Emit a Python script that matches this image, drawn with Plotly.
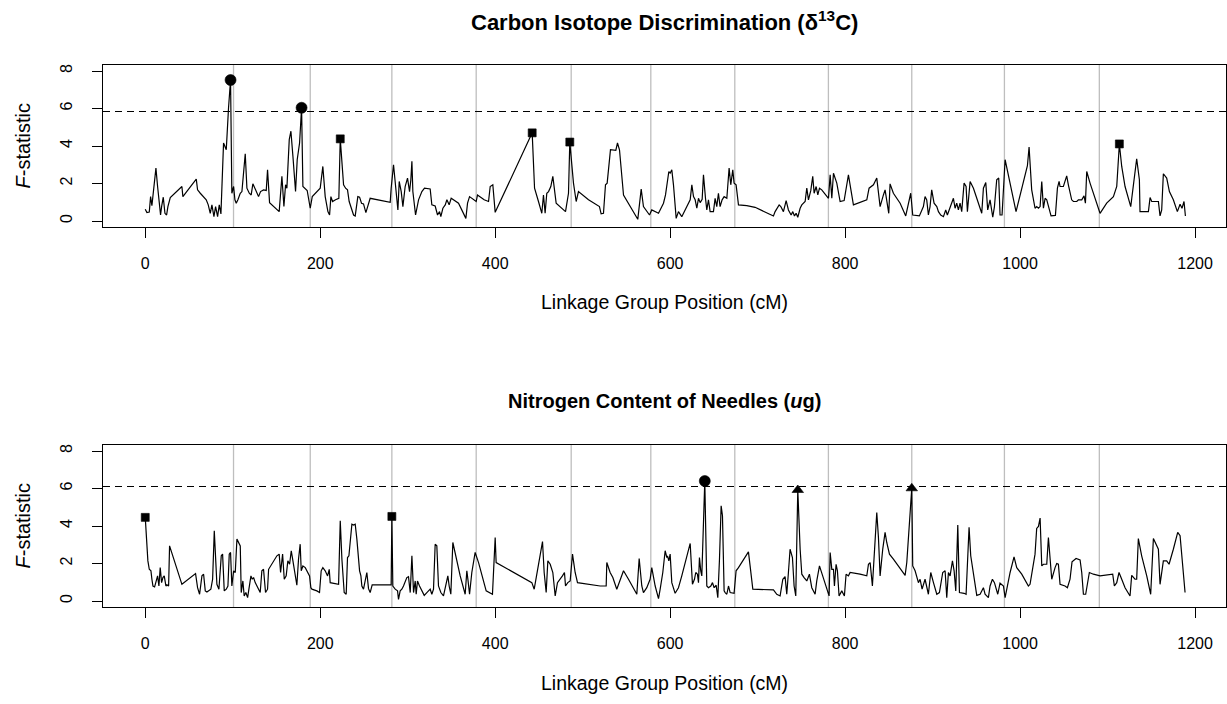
import plotly.graph_objects as go

# ---------------- data ----------------
# linkage-group boundaries (cM)
group_bounds = [100.9, 188.6, 281.9, 378.3, 486.9, 577.9, 673.9, 780.9, 876.2, 982.1, 1090.6]

x_ticks = [0, 200, 400, 600, 800, 1000, 1200]
y_ticks = [0, 2, 4, 6, 8]

# Carbon isotope discrimination: (position cM, F-statistic)
d13c_profile = [
    (0, 0.63), (1.9, 0.45), (4.6, 0.48), (6.1, 1.30), (7.6, 0.82), (9.5, 1.57), (12.2, 2.82), (14.1, 1.84),
    (16.0, 0.77), (17.5, 0.32), (18.7, 0.77), (20.6, 1.27), (22.5, 0.41), (24.4, 0.32), (25.9, 0.77),
    (28.6, 1.25), (41.9, 1.84), (43.0, 1.30), (58.3, 2.23), (59.8, 1.66), (62.9, 1.48), (66.7, 1.30),
    (69.7, 1.13), (72.0, 0.86), (74.3, 0.41), (76.2, 0.86), (78.5, 0.23), (80.4, 0.77), (82.7, 0.23),
    (84.6, 0.86), (86.5, 0.38), (89.5, 4.16), (92.6, 3.80), (95.2, 6.04), (97.5, 7.52), (99.0, 1.48),
    (101.0, 1.84), (102.5, 1.13), (104.0, 0.95), (105.9, 1.13), (108.6, 1.48), (110.5, 1.57), (114.3, 3.59),
    (116.2, 1.75), (118.9, 1.48), (121.1, 1.39), (123.0, 1.98), (126.1, 1.66), (129.5, 1.30), (131.8, 1.57),
    (135.2, 1.66), (138.3, 1.63), (139.8, 2.73), (142.1, 0.98), (146.7, 0.77), (153.1, 0.50), (156.2, 2.38),
    (158.5, 0.77), (160.4, 1.93), (161.9, 1.75), (164.6, 4.34), (166.5, 4.79), (168.8, 3.45), (171.8, 1.57),
    (173.7, 3.27), (176.4, 4.16), (178.7, 6.04), (180.2, 1.84), (185.1, 1.63), (188.6, 0.68), (190.9, 1.30),
    (196.2, 1.57), (200.0, 1.75), (203.0, 2.91), (205.7, 1.30), (208.8, 0.50), (210.7, 0.32), (212.2, 1.30),
    (214.1, 1.04), (217.5, 1.13), (221.3, 1.21), (222.9, 4.38), (225.1, 2.73), (226.7, 1.93), (229.0, 1.75),
    (231.2, 1.66), (233.1, 1.04), (238.1, 0.32), (240.0, 0.27), (243.0, 1.30), (245.0, 1.27), (247.2, 0.95),
    (249.5, 0.91), (252.2, 0.45), (257.1, 1.21), (280.0, 1.00), (281.1, 1.75), (283.8, 3.00), (288.8, 0.59),
    (290.3, 2.11), (292.6, 1.57), (294.5, 0.77), (297.1, 1.84), (299.8, 2.29), (302.1, 1.57), (303.6, 2.20),
    (304.8, 3.18), (305.9, 1.57), (309.0, 0.32), (312.4, 1.13), (316.2, 1.57), (319.2, 1.75), (325.7, 1.71),
    (327.6, 0.86), (331.4, 0.80), (334.1, 0.32), (336.4, 0.50), (337.9, 0.23), (340.2, 0.68), (342.9, 0.86),
    (344.8, 1.13), (347.4, 0.86), (349.7, 1.21), (358.1, 0.95), (366.5, 0.14), (368.4, 0.95), (370.7, 1.30),
    (375.2, 1.13), (378.3, 1.04), (379.8, 1.39), (387.4, 1.13), (392.4, 1.04), (394.3, 1.84), (397.3, 1.93),
    (400.0, 0.46), (442.3, 4.70), (445.0, 1.75), (449.5, 1.04), (453.3, 0.41), (455.2, 1.39), (457.1, 0.41),
    (459.0, 1.48), (461.0, 1.57), (463.6, 1.84), (465.9, 2.38), (469.7, 0.95), (474.3, 0.77), (480.4, 0.50),
    (483.8, 1.48), (485.3, 4.21), (489.5, 2.02), (492.6, 1.04), (495.2, 1.57), (506.7, 1.13), (519.2, 0.77),
    (521.1, 0.38), (523.8, 0.41), (526.1, 1.93), (528.0, 2.02), (530.3, 3.27), (531.8, 3.80), (537.9, 3.77),
    (539.8, 4.16), (542.1, 3.80), (546.7, 1.39), (563.0, 0.09), (566.9, 1.70), (569.5, 0.77), (576.4, 0.32),
    (579.0, 0.59), (586.7, 0.41), (592.4, 0.95), (594.7, 1.39), (598.5, 2.64), (600.0, 2.55), (601.9, 2.73),
    (603.8, 1.93), (606.9, 0.14), (609.5, 0.50), (613.3, 0.23), (619.0, 0.77), (622.9, 1.13), (624.8, 1.93),
    (626.7, 1.30), (628.6, 1.13), (630.5, 0.68), (632.4, 1.21), (634.3, 0.98), (636.6, 1.16), (638.1, 2.46),
    (640.4, 1.21), (641.9, 0.59), (643.8, 1.13), (645.7, 0.50), (649.5, 0.50), (651.4, 1.21), (653.3, 0.77),
    (655.2, 1.48), (657.1, 0.77), (659.4, 1.13), (661.7, 1.30), (664.8, 1.21), (667.4, 2.82), (669.3, 1.93),
    (671.6, 2.73), (673.1, 2.02), (675.4, 1.93), (678.1, 0.86), (687.6, 0.82), (697.1, 0.73), (718.1, 0.27),
    (720.0, 0.50), (724.6, 0.86), (726.5, 0.77), (729.5, 0.50), (732.6, 1.09), (735.2, 0.59), (738.3, 0.32),
    (740.2, 0.50), (742.1, 0.27), (744.0, 0.41), (745.9, 0.20), (748.6, 0.68), (750.5, 0.86), (754.3, 1.04),
    (756.2, 1.75), (758.1, 1.13), (760.8, 1.63), (763.0, 2.38), (764.6, 1.48), (766.9, 1.84), (768.8, 1.39),
    (770.7, 1.75), (773.3, 1.66), (781.0, 1.21), (782.9, 2.46), (784.8, 1.21), (786.7, 2.55), (790.5, 2.02),
    (794.3, 1.04), (798.9, 1.09), (803.8, 2.46), (809.5, 0.86), (824.8, 1.13), (827.4, 1.75), (832.4, 1.93),
    (836.2, 2.29), (840.0, 0.77), (843.8, 1.39), (845.7, 1.66), (849.9, 0.41), (851.4, 1.98), (855.2, 1.48),
    (862.9, 0.95), (869.3, 0.27), (875.0, 1.48), (877.3, 0.32), (884.9, 0.27), (889.5, 0.77), (891.4, 1.30),
    (893.3, 1.13), (895.2, 0.32), (897.1, 0.77), (899.0, 1.66), (901.7, 0.95), (904.8, 0.77), (906.7, 0.50),
    (909.3, 0.32), (912.4, 0.23), (915.0, 0.59), (916.9, 0.32), (920.0, 0.68), (921.9, 0.95), (923.8, 1.21),
    (925.7, 0.68), (927.6, 0.95), (929.5, 0.59), (931.4, 0.95), (933.3, 0.50), (936.0, 2.02), (938.3, 1.84),
    (939.8, 0.50), (942.9, 2.11), (946.7, 1.75), (950.5, 1.21), (956.2, 0.41), (958.1, 1.75), (960.8, 2.05),
    (963.0, 0.59), (965.7, 1.13), (968.8, 0.20), (970.7, 0.77), (973.3, 2.20), (975.6, 2.29), (977.1, 0.32),
    (979.4, 0.32), (982.9, 3.27), (995.4, 0.50), (1008.4, 2.95), (1010.3, 3.95), (1013.3, 1.66), (1017.1, 0.68),
    (1019.0, 0.77), (1021.0, 0.68), (1022.9, 0.77), (1024.8, 2.11), (1026.7, 0.68), (1028.6, 1.21),
    (1030.5, 1.13), (1032.4, 0.77), (1035.4, 0.27), (1040.4, 0.30), (1042.7, 1.75), (1044.6, 2.11),
    (1045.7, 1.84), (1049.5, 1.84), (1053.3, 2.41), (1055.2, 1.93), (1059.0, 1.13), (1061.0, 1.04),
    (1064.8, 1.04), (1066.7, 1.13), (1070.5, 1.13), (1073.1, 1.34), (1074.7, 0.95), (1076.2, 2.64),
    (1080.0, 2.02), (1091.4, 0.41), (1099.0, 0.95), (1106.7, 1.30), (1110.5, 1.84), (1113.5, 4.11),
    (1116.2, 2.91), (1120.0, 1.84), (1126.5, 0.77), (1133.3, 3.32), (1136.4, 2.20), (1137.1, 0.50),
    (1146.7, 0.50), (1148.6, 1.25), (1150.5, 1.04), (1158.1, 1.04), (1160.0, 0.27), (1161.9, 0.59),
    (1163.8, 2.52), (1167.6, 2.29), (1170.7, 1.57), (1175.2, 1.13), (1179.8, 0.50), (1182.9, 0.89),
    (1185.1, 0.68), (1187.4, 1.04), (1189.0, 0.27),
]
d13c_threshold = 5.84
d13c_mark_pos = [97.5, 178.7, 222.9, 442.3, 485.3, 1113.5]
d13c_mark_f = [7.52, 6.04, 4.38, 4.70, 4.21, 4.11]
d13c_mark_sym = ["circle", "circle", "square", "square", "square", "square"]

# Nitrogen content of needles: (position cM, F-statistic)
n_profile = [
    (0, 4.46), (3.0, 2.14), (4.6, 1.69), (6.5, 1.61), (7.6, 1.16), (8.8, 0.80), (10.7, 0.75), (12.6, 1.07),
    (14.1, 1.34), (15.6, 0.80), (17.1, 1.78), (18.7, 0.98), (20.2, 1.25), (21.7, 1.34), (23.6, 0.80),
    (24.8, 0.86), (26.7, 0.80), (27.8, 2.94), (41.9, 0.89), (57.5, 1.46), (59.8, 0.71), (62.1, 0.36),
    (64.8, 1.34), (66.7, 1.43), (68.6, 0.54), (70.5, 0.48), (72.8, 0.54), (75.0, 0.63), (77.0, 1.16),
    (78.9, 3.74), (81.9, 0.89), (84.2, 0.63), (86.9, 2.41), (88.4, 2.50), (90.3, 0.54), (92.6, 0.63),
    (94.5, 0.80), (96.0, 2.50), (97.5, 2.59), (99.0, 0.80), (101.0, 1.61), (102.9, 1.52), (104.8, 3.30),
    (106.7, 3.12), (108.6, 2.94), (109.7, 0.45), (111.6, 1.07), (113.1, 0.27), (115.0, 0.45), (117.0, 0.18),
    (118.9, 0.80), (120.8, 1.34), (122.3, 1.16), (123.8, 1.25), (125.7, 0.98), (127.6, 0.80), (129.5, 0.54),
    (131.4, 0.45), (133.3, 1.61), (135.2, 1.69), (137.5, 0.45), (139.8, 0.63), (141.0, 1.69), (144.8, 1.96),
    (150.5, 2.41), (153.1, 2.50), (154.7, 1.52), (157.0, 2.50), (158.9, 1.16), (161.1, 1.34), (163.0, 2.14),
    (165.0, 1.96), (166.9, 2.68), (168.8, 2.14), (171.4, 1.43), (173.3, 0.84), (175.2, 2.23), (177.1, 3.03),
    (178.3, 1.61), (180.2, 1.87), (182.9, 1.78), (184.8, 1.61), (187.8, 1.34), (189.3, 0.71), (190.5, 0.63),
    (196.2, 0.54), (199.2, 0.45), (201.1, 1.61), (203.0, 1.78), (205.7, 1.61), (208.4, 1.34), (210.3, 1.69),
    (211.4, 0.98), (221.0, 0.89), (222.9, 4.28), (224.8, 2.23), (227.4, 0.45), (229.7, 0.36), (231.2, 2.32),
    (232.8, 2.41), (235.0, 3.30), (236.2, 4.10), (238.1, 4.05), (240.0, 4.10), (241.9, 3.30), (243.8, 2.05),
    (245.0, 1.61), (246.5, 1.34), (247.6, 0.80), (249.5, 0.63), (251.4, 1.16), (253.3, 1.52), (255.2, 0.66),
    (257.1, 0.45), (259.4, 0.86), (281.1, 0.86), (281.9, 4.51), (283.0, 0.80), (285.7, 0.63), (288.4, 0.54),
    (289.5, 0.09), (291.4, 0.54), (293.3, 0.63), (295.2, 0.80), (299.0, 1.25), (300.9, 1.30), (302.9, 0.45),
    (304.8, 2.41), (306.7, 0.45), (308.6, 1.07), (309.7, 0.36), (311.2, 1.07), (313.5, 0.80), (316.2, 0.54),
    (318.9, 0.30), (321.9, 0.45), (325.7, 0.63), (327.6, 0.36), (329.5, 0.63), (331.4, 3.03), (333.3, 2.94),
    (335.2, 0.80), (337.9, 0.45), (340.9, 0.27), (343.6, 0.89), (345.9, 1.34), (347.4, 0.80), (349.3, 0.36),
    (351.6, 3.12), (354.3, 2.50), (360.0, 1.34), (365.7, 0.36), (367.6, 1.61), (368.8, 1.16), (370.7, 0.36),
    (373.3, 1.52), (377.1, 2.59), (381.0, 2.05), (385.9, 1.16), (389.7, 0.54), (396.9, 0.36), (400.0, 3.39),
    (401.1, 2.05), (441.9, 0.98), (444.6, 0.63), (446.9, 1.25), (451.4, 2.59), (454.1, 3.17), (456.0, 1.52),
    (458.3, 0.45), (460.2, 2.14), (462.9, 1.96), (465.9, 1.52), (468.6, 0.27), (471.2, 0.98), (474.3, 1.16),
    (476.9, 1.34), (479.2, 1.52), (480.4, 0.80), (483.0, 0.98), (485.7, 1.07), (488.4, 2.50), (491.4, 1.52),
    (494.1, 0.98), (520.0, 0.80), (526.9, 0.80), (527.6, 2.05), (531.4, 1.52), (534.5, 1.25), (539.0, 0.63),
    (542.9, 1.16), (546.7, 1.61), (552.4, 1.16), (561.9, 0.36), (564.6, 2.27), (567.6, 0.80), (569.5, 0.45),
    (573.3, 0.71), (577.1, 1.16), (579.0, 1.78), (582.9, 0.80), (586.7, 0.13), (588.6, 0.63), (591.6, 1.52),
    (594.3, 2.68), (596.2, 2.32), (597.0, 2.41), (598.5, 2.14), (600.0, 2.50), (601.9, 0.98), (605.7, 0.41),
    (609.5, 0.71), (613.3, 1.34), (618.3, 2.23), (622.9, 3.07), (625.5, 0.89), (627.8, 1.16), (629.3, 1.52),
    (631.2, 1.43), (632.4, 0.98), (633.5, 2.32), (635.0, 1.61), (636.2, 1.34), (639.6, 6.40), (641.1, 3.03),
    (641.9, 0.80), (643.8, 0.71), (646.5, 0.80), (648.4, 0.98), (650.3, 0.71), (652.6, 0.84), (654.5, 0.18),
    (656.4, 2.23), (658.3, 5.08), (659.8, 4.55), (661.7, 0.54), (662.9, 0.45), (664.8, 0.36), (666.7, 0.80),
    (668.6, 0.45), (673.1, 0.41), (675.4, 1.61), (678.1, 1.78), (689.5, 2.62), (691.4, 1.87), (694.5, 0.63),
    (718.1, 0.59), (721.9, 0.36), (725.7, 0.27), (728.8, 1.16), (731.4, 1.30), (733.3, 0.36), (735.2, 1.52),
    (737.1, 2.76), (739.8, 2.32), (741.7, 0.80), (743.6, 0.27), (745.9, 5.92), (748.6, 2.76), (750.5, 1.43),
    (753.1, 1.25), (756.2, 1.07), (759.2, 1.43), (761.9, 0.71), (765.7, 0.36), (767.6, 1.07), (770.7, 1.87),
    (775.2, 1.25), (779.0, 0.63), (781.7, 0.27), (782.9, 2.59), (784.8, 1.69), (786.7, 1.69), (787.8, 0.80),
    (789.7, 1.96), (791.2, 1.61), (793.1, 0.27), (796.2, 0.54), (799.2, 0.27), (801.1, 1.43), (803.8, 1.34),
    (805.7, 1.52), (817.1, 1.43), (824.8, 1.34), (826.7, 1.96), (828.6, 2.05), (831.2, 0.80), (834.3, 3.48),
    (836.2, 4.72), (838.1, 3.39), (840.0, 1.34), (843.0, 2.76), (845.7, 3.66), (847.6, 3.12), (850.7, 2.50),
    (855.2, 2.23), (868.6, 1.37), (870.5, 2.05), (876.2, 6.01), (877.3, 1.87), (880.0, 1.61), (883.8, 0.98),
    (885.7, 1.16), (888.0, 0.63), (891.4, 1.16), (895.2, 0.36), (897.9, 1.52), (901.0, 0.98), (904.8, 0.36),
    (907.8, 0.45), (909.3, 0.98), (911.6, 1.52), (914.3, 1.61), (916.2, 0.18), (918.1, 1.52), (920.0, 1.34),
    (922.7, 2.14), (924.6, 1.61), (926.5, 0.54), (928.8, 4.05), (930.7, 0.45), (933.3, 0.45), (936.0, 0.41),
    (938.3, 0.36), (941.7, 3.93), (943.6, 2.41), (946.7, 1.34), (950.5, 0.30), (954.3, 0.36), (958.1, 0.71),
    (960.0, 0.36), (963.8, 0.18), (965.7, 0.80), (968.4, 1.16), (970.7, 0.98), (972.6, 0.71), (974.5, 0.36),
    (977.1, 0.95), (981.0, 0.80), (982.9, 0.18), (988.6, 1.52), (993.1, 2.35), (996.2, 1.78), (1001.9, 1.43),
    (1009.5, 0.80), (1011.4, 0.89), (1017.1, 2.50), (1019.0, 3.87), (1021.0, 3.98), (1022.9, 4.42),
    (1024.8, 1.87), (1026.7, 1.96), (1030.5, 1.96), (1032.4, 3.39), (1034.3, 2.23), (1036.2, 1.16),
    (1040.0, 1.78), (1041.9, 2.00), (1043.8, 1.96), (1045.7, 0.89), (1051.4, 0.80), (1054.1, 0.71),
    (1057.1, 1.16), (1059.4, 2.09), (1064.0, 2.27), (1068.6, 2.19), (1070.5, 1.52), (1072.4, 0.36),
    (1075.0, 0.36), (1079.2, 1.52), (1083.8, 1.43), (1091.4, 1.34), (1105.9, 1.43), (1107.8, 0.80),
    (1110.5, 0.98), (1113.1, 1.52), (1116.2, 1.16), (1120.0, 0.71), (1125.7, 0.27), (1127.6, 1.37),
    (1131.4, 1.16), (1133.3, 1.16), (1135.2, 3.33), (1139.0, 2.41), (1144.8, 1.34), (1149.3, 0.36),
    (1152.4, 3.33), (1158.1, 2.76), (1160.0, 0.89), (1163.8, 2.14), (1167.6, 2.14), (1170.3, 1.96),
    (1175.2, 2.76), (1180.2, 3.66), (1182.9, 3.48), (1188.6, 0.45),
]
n_threshold = 6.11
n_mark_pos = [0, 281.9, 639.6, 745.9, 876.2]
n_mark_f = [4.46, 4.51, 6.40, 5.92, 6.01]
n_mark_sym = ["square", "square", "circle", "triangle-up", "triangle-up"]

# ---------------- figure ----------------
FONT = "Liberation Sans, Arial, Helvetica, sans-serif"
W, H = 1227, 704
M_L, M_R, M_T, M_B = 103, 1, 65, 97
plot_h = H - M_T - M_B

def py2paper(py):
    return (H - M_B - py) / plot_h

def px2paper(px):
    return (px - M_L) / (W - M_L - M_R)

fig = go.Figure()
sym_size = {"circle": 11, "square": 8, "triangle-up": 10}

panels = [
    ("x", "y", d13c_profile, d13c_threshold, d13c_mark_pos, d13c_mark_f, d13c_mark_sym),
    ("x2", "y2", n_profile, n_threshold, n_mark_pos, n_mark_f, n_mark_sym),
]
shapes = []
for xa, ya, prof, thr, mpos, mf, msym in panels:
    xs = [p[0] for p in prof]
    ys = [p[1] for p in prof]
    fig.add_trace(go.Scatter(x=xs, y=ys, mode="lines", xaxis=xa, yaxis=ya,
                             line=dict(color="black", width=1.2), showlegend=False,
                             hoverinfo="skip"))
    fig.add_trace(go.Scatter(x=mpos, y=mf, mode="markers", xaxis=xa, yaxis=ya,
                             marker=dict(symbol=msym, size=[sym_size[s] for s in msym],
                                         color="black", opacity=1,
                                         line=dict(width=0.6, color="black")),
                             showlegend=False, hoverinfo="skip"))
    for b in group_bounds:
        shapes.append(dict(type="line", xref=xa, yref=f"{ya} domain", x0=b, x1=b, y0=0, y1=1,
                           line=dict(color="#BEBEBE", width=1.3), layer="below"))
    shapes.append(dict(type="line", xref=f"{xa} domain", yref=ya, x0=0, x1=1, y0=thr, y1=thr,
                       line=dict(color="black", width=1.1, dash="7px,5px")))

top_dom = [py2paper(227), 1.0]
bot_dom = [0.0, py2paper(445)]

axis_common = dict(showline=True, mirror=True, linecolor="black", linewidth=1,
                   ticks="outside", ticklen=10, tickwidth=1, tickcolor="black",
                   showgrid=False, zeroline=False,
                   tickfont=dict(family=FONT, size=16, color="black"))

xr = [-48.3, 1235.4]
yr = [-0.32, 8.32]
fig.update_layout(
    width=W, height=H,
    margin=dict(l=M_L, r=M_R, t=M_T, b=M_B),
    paper_bgcolor="white", plot_bgcolor="white",
    font=dict(family=FONT, color="black"),
    xaxis=dict(domain=[0, 1], anchor="y", range=xr, tickvals=x_ticks,
               ticklabelstandoff=12, **axis_common),
    yaxis=dict(domain=top_dom, anchor="x", range=yr, tickvals=y_ticks, tickangle=-90,
               ticklabelstandoff=14, **axis_common),
    xaxis2=dict(domain=[0, 1], anchor="y2", range=xr, tickvals=x_ticks,
                ticklabelstandoff=12, **axis_common),
    yaxis2=dict(domain=bot_dom, anchor="x2", range=yr, tickvals=y_ticks, tickangle=-90,
                ticklabelstandoff=14, **axis_common),
    shapes=shapes,
)

cx = px2paper((103 + 1226) / 2)
ann = [
    dict(text="<b>Carbon Isotope Discrimination (δ<sup>13</sup>C)</b>", x=cx, y=py2paper(21),
         font=dict(size=22)),
    dict(text="<b>Nitrogen Content of Needles (<i>u</i>g)</b>", x=cx, y=py2paper(401),
         font=dict(size=20)),
    dict(text="Linkage Group Position (cM)", x=cx, y=py2paper(302), font=dict(size=19.5)),
    dict(text="Linkage Group Position (cM)", x=cx, y=py2paper(683), font=dict(size=19.5)),
    dict(text="<i>F</i>-statistic", x=px2paper(22.5), y=py2paper(146), textangle=-90,
         font=dict(size=20)),
    dict(text="<i>F</i>-statistic", x=px2paper(22.5), y=py2paper(526), textangle=-90,
         font=dict(size=20)),
]
for a in ann:
    a.update(xref="paper", yref="paper", showarrow=False, xanchor="center", yanchor="middle")
    a["font"].update(family=FONT, color="black")
fig.update_layout(annotations=ann)

fig.write_html("out.html")
